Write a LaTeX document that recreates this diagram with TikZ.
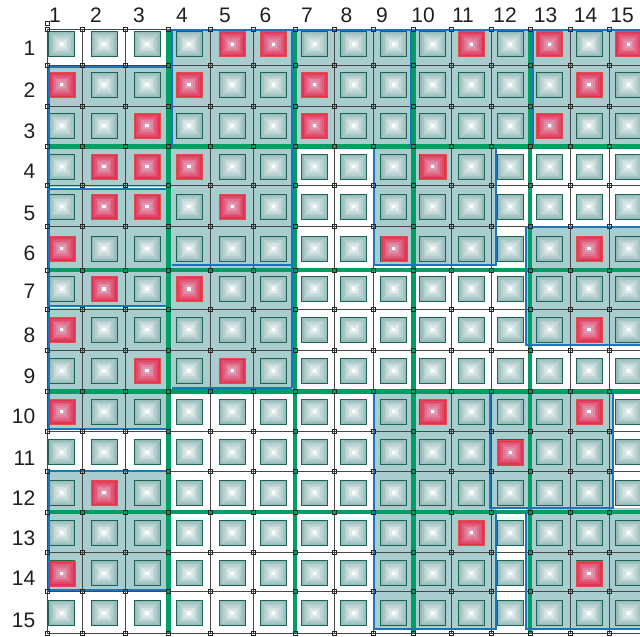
\documentclass[tikz,border=0pt]{standalone}
\usepackage{fontspec}
\setmainfont{Liberation Sans}
\definecolor{cellbg}{RGB}{169,204,207}
\definecolor{grn}{RGB}{0,158,98}
\definecolor{blu}{RGB}{27,117,188}
\definecolor{boxedge}{RGB}{150,188,186}
\definecolor{boxline}{RGB}{30,100,85}
\definecolor{rededge}{RGB}{226,50,85}
\definecolor{redmid}{RGB}{222,188,208}
\definecolor{redline}{RGB}{230,75,70}
\def\XL{47.3,82.3,125.7,168.3,210.7,253.3,295,334.3,373.3,413.3,451,491,530,570,609,649}
\def\YL{29.3,65,106,146.7,185.7,226.7,270,309.3,350.7,391.7,431,471,512,552,591,633}
\def\BXarr{61.8,104,147,189,232.2,273.5,314.7,353.8,393.8,432.8,471.3,510.3,549.7,589,628.7}
\def\BYarr{44.2,84.8,125.8,166.7,206.5,248.7,289,329.5,370.8,411.6,452.3,492.8,532.8,573.3,613.2}
\newcommand\mkbox[2]{%
  \foreach \k in {0,...,6}{%
    \pgfmathtruncatemacro\fr{100-14*\k}%
    \pgfmathsetmacro\hw{13*(1-\k/7)}%
    \pgfmathsetmacro\hh{12.5*(1-\k/7)}%
    \fill[boxedge!\fr!white] ({#1-\hw},{#2-\hh}) rectangle ({#1+\hw},{#2+\hh});
  }%
  \fill[white] ({#1-1.6},{#2-1.6}) rectangle ({#1+1.6},{#2+1.6});
  \draw[boxline,line width=0.9pt] ({#1-13},{#2-12.5}) rectangle ({#1+13},{#2+12.5});
}
\newcommand\mkredbox[2]{%
  \foreach \k in {0,...,6}{%
    \pgfmathtruncatemacro\fr{100-15*\k}%
    \pgfmathsetmacro\hw{13*(1-\k/7)}%
    \pgfmathsetmacro\hh{12.5*(1-\k/7)}%
    \fill[rededge!\fr!redmid] ({#1-\hw},{#2-\hh}) rectangle ({#1+\hw},{#2+\hh});
  }%
  \fill[white] ({#1-1.6},{#2-1.6}) rectangle ({#1+1.6},{#2+1.6});
  \draw[redline,line width=0.6pt] ({#1-13},{#2-12.5}) rectangle ({#1+13},{#2+12.5});
}
\begin{document}
\begin{tikzpicture}[x=1pt,y=-1pt,
  gridline/.style={line width=0.9pt, draw=black!72},
  greenline/.style={line width=4.7pt, draw=grn},
  blueline/.style={line width=2pt, draw=blu},
  whiteline/.style={line width=1pt, draw=white},
  marker/.style={line width=0.6pt, draw=black!85},
  lbl/.style={font=\fontsize{21}{23}\selectfont, text=black!88, inner sep=0pt}]
\useasboundingbox (0,0) rectangle (640,637);
\clip (0,0) rectangle (640,637);
\fill[white] (0,0) rectangle (640,637);
% shaded regions
\foreach \a/\b/\c/\d in {168.3/29.3/640/146.7, 47.3/66.7/168.3/146.7, 47.3/146.7/168.3/429,
  168.3/146.7/292.5/388, 373.7/146.7/495.7/265, 526/226.5/640/345, 47.3/470.5/168.3/589.5,
  373.5/391.7/612.7/507.7, 373.5/507.7/496/629, 526/507.7/640/629}
  \fill[cellbg] (\a,\b) rectangle (\c,\d);
% thin grid
\foreach \x in \XL \draw[gridline] (\x,29.3) -- (\x,633);
\foreach \y in \YL \draw[gridline] (47.3,\y) -- (649,\y);
% boxes
\foreach \cy in \BYarr {\foreach \cx in \BXarr {\mkbox{\cx}{\cy}}}
\foreach \c/\r in {5/1,6/1,11/1,13/1,15/1, 1/2,4/2,7/2,14/2, 3/3,7/3,13/3,
  2/4,3/4,4/4,10/4, 2/5,3/5,5/5, 1/6,9/6,14/6, 2/7,4/7, 1/8,14/8, 3/9,5/9,
  1/10,10/10,14/10, 12/11, 2/12, 11/13, 1/14,14/14}{%
  \pgfmathsetmacro\rx{{\BXarr}[\c-1]}%
  \pgfmathsetmacro\ry{{\BYarr}[\r-1]}%
  \mkredbox{\rx}{\ry}}
% green block lines
\foreach \y in {146.7,270,391.7,512} \draw[greenline] (47.3,\y) -- (649,\y);
\foreach \x in {168.3,295,413.3,530} \draw[greenline] (\x,29.3) -- (\x,633);
% white gaps beside inner blue edges
\draw[whiteline] (49.5,187) -- (166,187);
\draw[whiteline] (49.5,307.5) -- (166,307.5);
% blue region outlines
\draw[blueline] (168.3,29.5) -- (640,29.5);
\draw[blueline] (47.3,66.7) -- (168.3,66.7);
\draw[blueline] (48.5,66.7) -- (48.5,429);
\draw[blueline] (48.5,470.5) -- (48.5,589.5);
\draw[blueline] (171.5,29.5) -- (171.5,146.7);
\draw[blueline] (47.3,188.8) -- (166,188.8);
\draw[blueline] (171.5,265) -- (292.3,265);
\draw[blueline] (47.3,306) -- (166,306);
\draw[blueline] (171.5,388) -- (292.3,388);
\draw[blueline] (292.3,29.5) -- (292.3,388);
\draw[blueline] (47.3,429) -- (166,429);
\draw[blueline] (47.3,470.5) -- (166,470.5);
\draw[blueline] (47.3,589.5) -- (166,589.5);
\draw[blueline] (410.5,29.5) -- (410.5,146.7);
\draw[blueline] (533,29.5) -- (533,146.7);
\draw[blueline] (373.7,146.7) -- (373.7,265) -- (495.7,265) -- (495.7,146.7);
\draw[blueline] (640,226.5) -- (526,226.5) -- (526,345) -- (640,345);
\draw[blueline] (373.5,391.7) -- (373.5,629) -- (496,629) -- (496,512);
\draw[blueline] (490,391.7) -- (490,507.7) -- (612.7,507.7) -- (612.7,391.7);
\draw[blueline] (526,512) -- (526,629) -- (640,629);
% intersection markers
\foreach \x in \XL {\foreach \y in \YL {\draw[marker] (\x-2,\y-2) rectangle (\x+2,\y+2);}}
\draw[marker] (45.3,21) rectangle (49.3,25);
% labels
\foreach \lx [count=\i] in {55,96,139,182,225,265.5,307,346.5,382,423,463,505,545.5,585.5,622}
  \node[lbl, anchor=base] (col\i) at (\lx,22.5) {\i};
\foreach \ly [count=\i] in {55.5,97,138.5,178.5,220,260.5,298.5,342,383.5,423.5,465.5,505.5,545.5,585.5,627.7}
  \node[lbl, anchor=base east] (row\i) at (35.5,\ly) {\i};
\end{tikzpicture}
\end{document}
